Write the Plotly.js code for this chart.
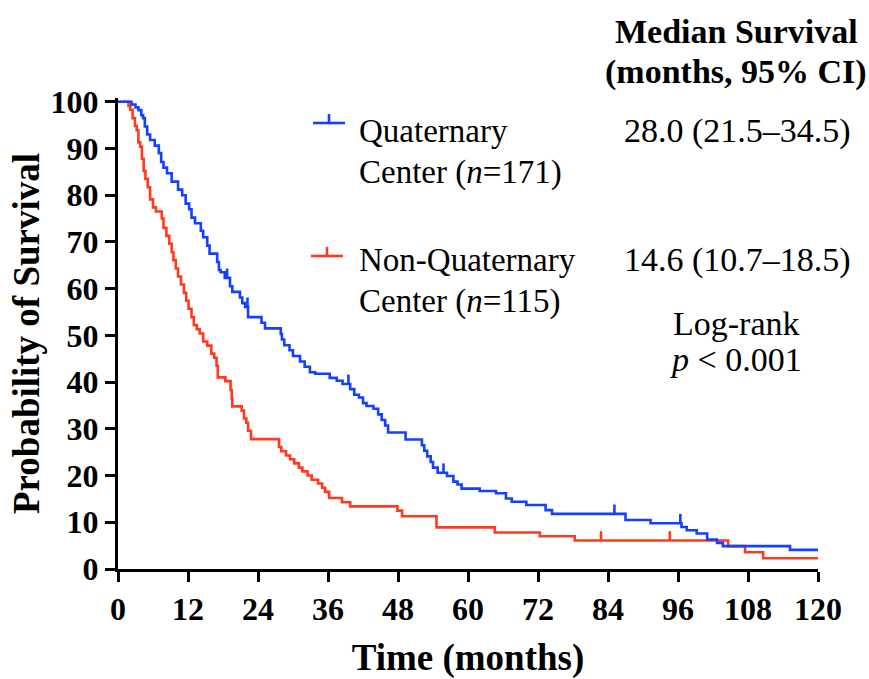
<!DOCTYPE html>
<html>
<head>
<meta charset="utf-8">
<script src="https://cdn.plot.ly/plotly-3.0.1.min.js"></script>
<style>html,body{margin:0;padding:0;background:#fff;}#chart{width:869px;height:679px;}</style>
</head>
<body>
<div id="chart"></div>
<script>
// Quaternary Center (n=171) — Kaplan-Meier step points (months, % surviving)
const quatTime = [0, 2.3, 3.0, 3.5, 4.0, 4.3, 4.6, 5.0, 5.5, 6.3, 7.0, 7.4, 7.8, 8.4, 9.2, 10.3, 11.0, 11.6, 12.2, 12.6, 13.2, 14.2, 14.6, 15.3, 15.7, 17.0, 17.3, 17.6, 18.3, 19.2, 19.6, 20.9, 21.3, 21.8, 22.3, 24.6, 25.2, 27.9, 28.1, 28.5, 29.4, 30.0, 31.2, 32.0, 32.9, 33.8, 36.3, 37.5, 38.5, 39.8, 40.5, 41.3, 42.0, 42.6, 43.8, 44.6, 45.2, 45.8, 46.3, 49.3, 52.1, 52.5, 53.0, 53.6, 54.0, 54.8, 56.4, 57.5, 58.2, 58.9, 62.0, 64.8, 66.5, 67.5, 70.0, 73.3, 74.4, 87.0, 91.3, 96.6, 97.5, 99.2, 101.0, 102.7, 103.7, 115.2, 120];
const quatSurv = [100, 99.4, 98.8, 98.2, 97.1, 96.5, 94.7, 93.0, 91.8, 90.6, 89.0, 87.1, 85.9, 84.7, 82.9, 81.2, 80.0, 78.2, 77.0, 75.2, 74.0, 72.4, 71.0, 69.2, 67.5, 65.7, 64.0, 63.5, 62.3, 60.5, 59.3, 58.1, 56.9, 56.1, 53.9, 52.7, 51.5, 50.3, 49.1, 47.9, 46.8, 45.6, 44.4, 43.3, 42.1, 41.8, 40.9, 40.3, 39.6, 38.5, 37.3, 36.7, 35.5, 34.9, 34.3, 33.1, 31.9, 30.7, 29.2, 27.7, 26.5, 25.3, 24.1, 22.9, 21.7, 20.6, 19.9, 18.7, 18.1, 17.2, 16.7, 16.2, 15.1, 14.4, 13.7, 12.6, 11.8, 10.5, 9.8, 9.0, 8.3, 7.6, 6.3, 5.6, 4.9, 4.1, 4.1];
const quatCensorTime = [18.7, 22.2, 39.5, 55.8, 85.1, 96.4];
const quatCensorSurv = [62.3, 56.1, 39.6, 20.6, 11.8, 9.8];

// Non-Quaternary Center (n=115)
const nonTime = [0, 1.8, 2.1, 2.5, 2.9, 3.2, 3.5, 3.8, 4.1, 4.4, 4.7, 5.1, 5.5, 6.0, 6.5, 7.5, 7.8, 8.3, 8.8, 9.2, 9.5, 9.9, 10.3, 10.8, 11.3, 11.7, 12.1, 12.6, 13.0, 13.5, 14.0, 14.6, 15.3, 16.0, 16.5, 16.9, 17.1, 18.4, 19.3, 19.5, 19.6, 21.2, 21.6, 22.0, 22.3, 22.8, 27.6, 28.0, 28.8, 29.5, 30.2, 31.0, 31.6, 32.5, 33.2, 34.3, 35.0, 35.5, 36.2, 38.4, 39.8, 47.9, 48.7, 54.6, 64.6, 72.3, 78.3, 104.6, 107.5, 110.6, 120];
const nonSurv = [100, 99.1, 98.3, 96.5, 94.8, 93.9, 91.3, 90.4, 87.8, 85.2, 83.5, 81.7, 79.1, 77.4, 76.5, 75.0, 73.0, 71.3, 69.6, 67.8, 66.1, 64.3, 62.6, 60.9, 59.1, 57.4, 55.7, 53.9, 52.2, 51.3, 50.4, 48.7, 47.8, 46.1, 45.2, 43.5, 41.0, 40.2, 38.3, 36.5, 34.8, 33.9, 32.2, 31.3, 29.6, 27.8, 26.1, 25.2, 24.3, 23.5, 22.6, 21.7, 20.9, 20.0, 19.1, 18.3, 17.4, 16.5, 15.2, 14.3, 13.4, 12.5, 11.3, 8.9, 7.8, 7.0, 6.1, 4.9, 3.6, 2.3, 2.3];
const nonCensorTime = [82.8, 94.6];
const nonCensorSurv = [6.1, 6.1];

const xTicks = [0, 12, 24, 36, 48, 60, 72, 84, 96, 108, 120];
const yTicks = [0, 10, 20, 30, 40, 50, 60, 70, 80, 90, 100];

const BLUE = '#1440ff';
const RED = '#ff3a1e';
const FONT = 'Liberation Serif, Times New Roman, serif';
const TICK_H = 2.0;

function censorTrace(t, s, color) {
  return {
    x: t, y: s, type: 'scatter', mode: 'markers', showlegend: false, hoverinfo: 'skip',
    marker: {size: 1, color: color, opacity: 0},
    error_y: {type: 'data', symmetric: false, array: t.map(() => TICK_H), arrayminus: t.map(() => 0),
              color: color, thickness: 2.6, width: 0}
  };
}

const data = [
  {x: nonTime, y: nonSurv, type: 'scatter', mode: 'lines', line: {shape: 'hv', color: RED, width: 2.6}, name: 'Non-Quaternary Center', showlegend: false},
  {x: quatTime, y: quatSurv, type: 'scatter', mode: 'lines', line: {shape: 'hv', color: BLUE, width: 2.6}, name: 'Quaternary Center', showlegend: false},
  censorTrace(nonCensorTime, nonCensorSurv, RED),
  censorTrace(quatCensorTime, quatCensorSurv, BLUE)
];

// paper-coordinate helpers for the plot box (l=118, r=818, top=98, bottom=569)
const L = 118, R = 818, T = 98, B = 569;
const px = v => (v - L) / (R - L);
const py = v => (B - v) / (B - T);

function txt(text, x, y, anchor, size, bold) {
  return {text: text, xref: 'paper', yref: 'paper', x: px(x), y: py(y), xanchor: anchor, yanchor: 'middle',
          showarrow: false, font: {family: FONT, size: size, color: '#000', weight: bold ? 'bold' : 'normal'}};
}

const annotations = [
  txt('Median Survival', 736, 31, 'center', 34, true),
  txt('(months, 95% CI)', 736, 72, 'center', 34, true),
  txt('Quaternary', 357, 131, 'left', 33, false),
  txt('Center (<i>n</i>=171)', 357, 172, 'left', 33, false),
  txt('Non-Quaternary', 357, 260, 'left', 33, false),
  txt('Center (<i>n</i>=115)', 357, 301, 'left', 33, false),
  txt('28.0 (21.5–34.5)', 737, 131, 'center', 34, false),
  txt('14.6 (10.7–18.5)', 737, 260, 'center', 34, false),
  txt('Log-rank', 736, 323, 'center', 34, false),
  txt('<i>p</i> &lt; 0.001', 736, 359, 'center', 34, false)
];

function legendGlyph(x0, x1, y, color) {
  const xm = (x0 + x1) / 2;
  return [
    {type: 'line', xref: 'paper', yref: 'paper', x0: px(x0), x1: px(x1), y0: py(y), y1: py(y), line: {color: color, width: 2.6}},
    {type: 'line', xref: 'paper', yref: 'paper', x0: px(xm), x1: px(xm), y0: py(y), y1: py(y - 9), line: {color: color, width: 2.6}}
  ];
}

const layout = {
  width: 869, height: 679,
  margin: {l: L, r: 869 - R, t: T, b: 679 - B},
  paper_bgcolor: '#fff', plot_bgcolor: '#fff',
  font: {family: FONT, color: '#000'},
  xaxis: {
    range: [0, 120], tickvals: xTicks, ticktext: xTicks.map(String),
    showgrid: false, zeroline: false, showline: true, linecolor: '#000', linewidth: 3,
    ticks: 'outside', ticklen: 10, tickwidth: 3, tickcolor: '#000',
    tickfont: {family: FONT, size: 32, weight: 'bold', color: '#000'},
    title: {text: 'Time (months)', font: {family: FONT, size: 37, weight: 'bold', color: '#000'}, standoff: 20}
  },
  yaxis: {
    range: [0, 100.8], tickvals: yTicks, ticktext: yTicks.map(String),
    showgrid: false, zeroline: false, showline: true, linecolor: '#000', linewidth: 3,
    ticks: 'outside', ticklen: 10, tickwidth: 3, tickcolor: '#000',
    tickfont: {family: FONT, size: 32, weight: 'bold', color: '#000'},
    title: {text: 'Probability of Survival', font: {family: FONT, size: 37, weight: 'bold', color: '#000'}, standoff: 0}
  },
  shapes: [].concat(legendGlyph(313, 345, 123, BLUE), legendGlyph(311, 343, 256, RED)),
  annotations: annotations
};

Plotly.newPlot('chart', data, layout, {displayModeBar: false, staticPlot: true});
</script>
</body>
</html>
